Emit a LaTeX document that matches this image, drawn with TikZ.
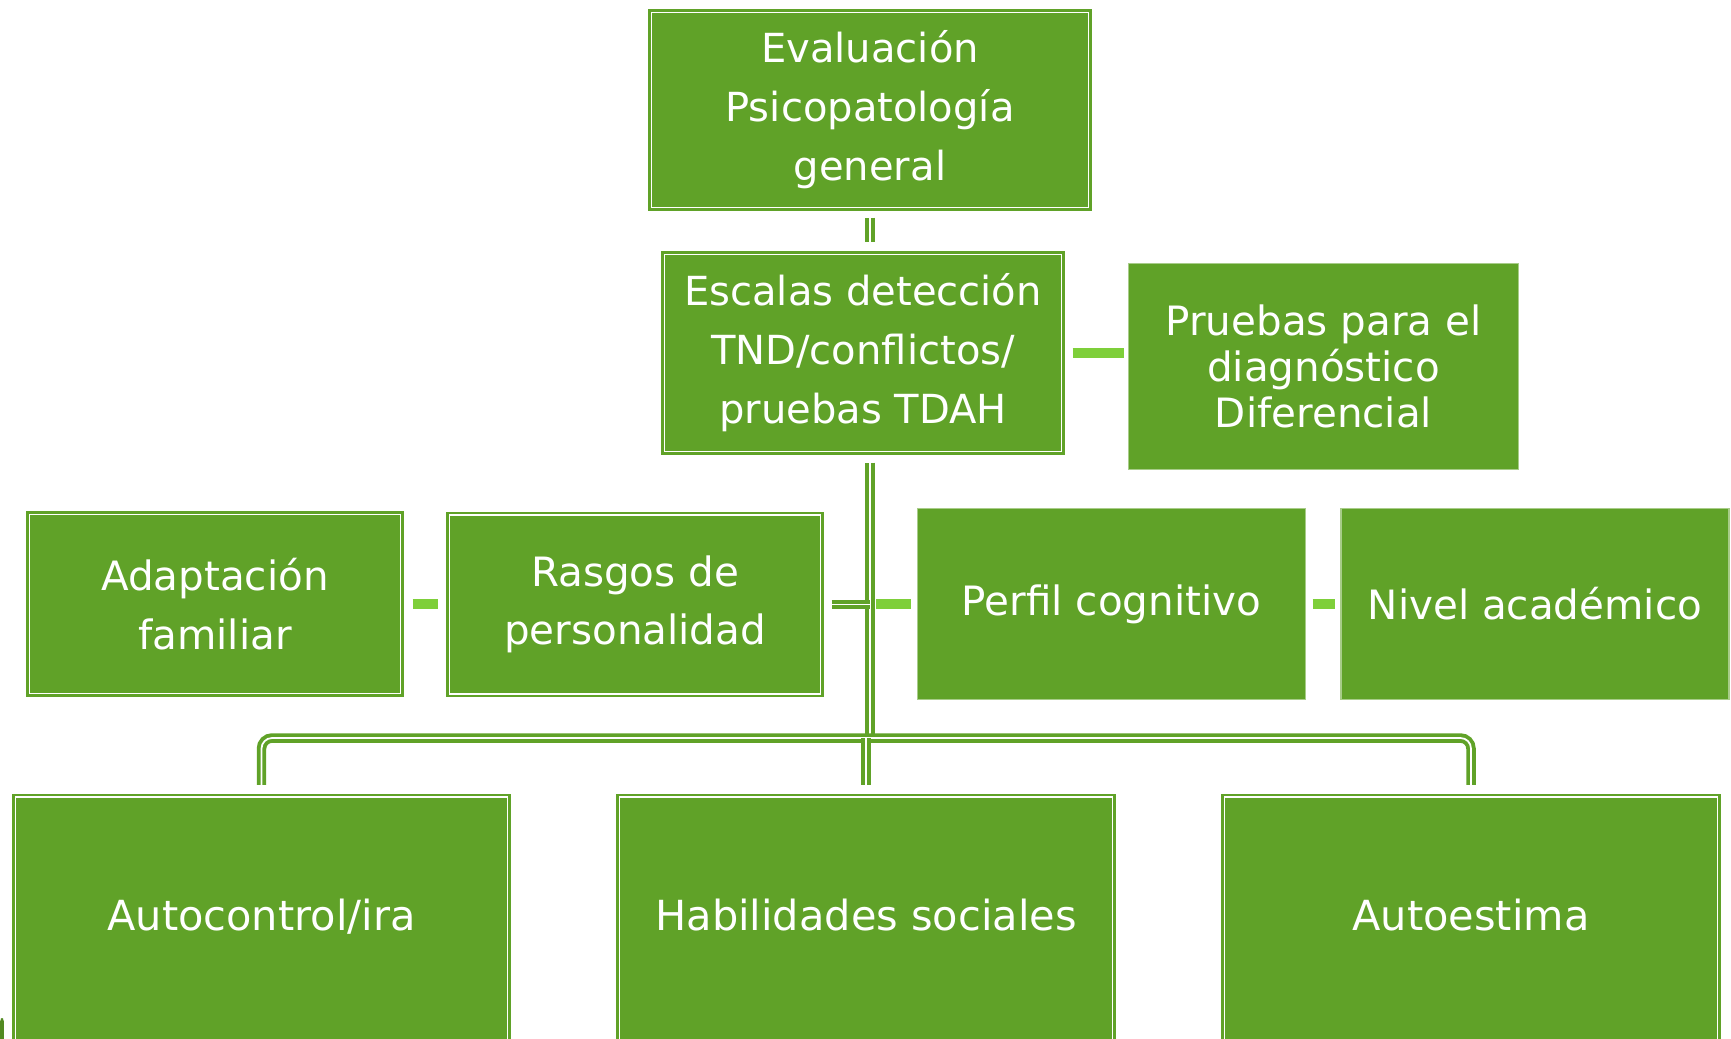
\documentclass[tikz,border=0pt]{standalone}
\usepackage{fontspec}
\setmainfont{DejaVu Sans}
\usetikzlibrary{positioning, calc}

\definecolor{boxgreen}{HTML}{60A228}
\definecolor{dashgreen}{HTML}{7ECF3A}

\begin{document}
\begin{tikzpicture}[
    box/.style={rectangle, fill=boxgreen, text=white, align=center, inner sep=2pt},
    dbox/.style={box, draw=boxgreen, line width=0.7pt, double=white, double distance=0.5pt},
    pbox/.style={box, draw=boxgreen!55!white, line width=0.4pt},
    topfont/.style={font=\fontsize{11.4}{16.8}\selectfont},
    midfont/.style={font=\fontsize{11.5}{16.6}\selectfont},
    lowfont/.style={font=\fontsize{11.8}{14}\selectfont, text height=0.33cm, text depth=0.2cm},
    link/.style={draw=boxgreen, line width=1.1pt, double=white, double distance=0.5pt},
    dashlink/.style={draw=dashgreen, line width=2.85pt}
]
\useasboundingbox (0,0) rectangle (17.31,-10.39);
\clip (0,0) rectangle (17.31,-10.39);

% ============ TOP ============
\node[dbox, topfont, minimum width=4.37cm, minimum height=1.95cm] (eval) at (8.70,-1.10) {
    Evaluación\\
    Psicopatología\\
    general
};

\node[dbox, topfont, minimum width=3.97cm, minimum height=1.97cm] (escalas) at (8.63,-3.53) {
    Escalas detección\\
    TND/conflictos/\\
    pruebas TDAH
};

\node[pbox, font=\fontsize{11.5}{13}\selectfont, minimum width=3.90cm, minimum height=2.06cm] (pruebas) at (13.235,-3.665) {
    Pruebas para el\\
    diagnóstico\\
    Diferencial
};

% ============ MIDDLE ROW ============
\node[dbox, midfont, minimum width=3.71cm, minimum height=1.79cm] (adaptacion) at (2.15,-6.04) {
    Adaptación\\
    familiar
};

\node[dbox, midfont, minimum width=3.71cm, minimum height=1.79cm] (rasgos) at (6.35,-6.045) {
    Rasgos de\\
    personalidad
};

\node[pbox, midfont, minimum width=3.88cm, minimum height=1.91cm] (perfil) at (11.115,-6.04) {Perfil cognitivo};

\node[pbox, midfont, minimum width=3.88cm, minimum height=1.91cm, right=0.34cm of perfil] (nivel) {Nivel académico};

% ============ BOTTOM ROW ============
\node[dbox, lowfont, minimum width=4.92cm, minimum height=2.53cm] (autocontrol) at (2.615,-9.235) {Autocontrol/ira};

\node[dbox, lowfont, minimum width=4.93cm, minimum height=2.53cm] (habilidades) at (8.66,-9.235) {Habilidades sociales};

\node[dbox, lowfont, minimum width=4.93cm, minimum height=2.53cm] (autoestima) at (14.71,-9.235) {Autoestima};

% ============ CONNECTIONS ============
\coordinate (hub) at (8.70,-7.38);

\draw[link, shorten <=0.09cm, shorten >=0.11cm] (eval.south) -- (eval.south |- escalas.north);
\draw[link, shorten <=0.10cm] (escalas.south -| hub) -- (hub);

\draw[link, rounded corners=3pt, shorten >=0.11cm] (hub) -| (autocontrol.north);
\draw[link, rounded corners=3pt, shorten >=0.11cm] (hub) -| (autoestima.north);
\draw[link, shorten >=0.11cm] (hub -| habilidades.north) -- (habilidades.north);

\draw[link, shorten <=0.10cm] (rasgos.east) -- (rasgos.east -| hub);
\draw[dashlink, shorten <=0.06cm, shorten >=0.055cm] (perfil.west -| hub) -- (perfil.west);

\draw[dashlink, shorten <=0.10cm, shorten >=0.04cm] (escalas.east) -- (escalas.east -| pruebas.west);
\draw[dashlink, shorten <=0.11cm, shorten >=0.10cm] (adaptacion.east) -- (adaptacion.east -| rasgos.west);
\draw[dashlink, shorten <=0.065cm, shorten >=0.055cm] (perfil.east) -- (nivel.west);

% edge of a box cut off at the corner
\fill[boxgreen!85!black, rounded corners=1pt] (0,-10.18) rectangle (0.04,-10.45);

\end{tikzpicture}
\end{document}
